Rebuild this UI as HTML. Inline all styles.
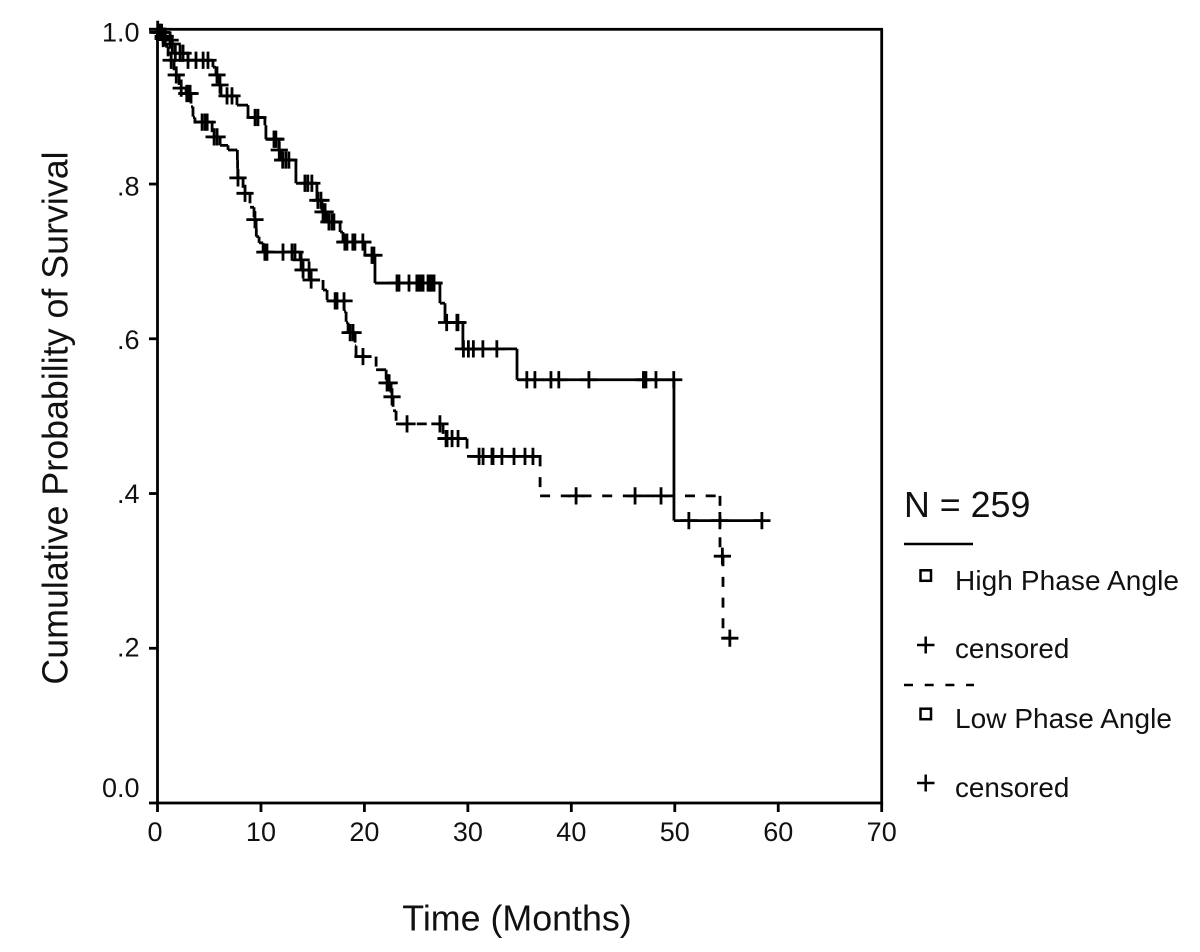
<!DOCTYPE html>
<html lang="en">
<head>
<meta charset="utf-8">
<title>Cumulative Probability of Survival</title>
<style>
html,body{margin:0;padding:0;background:#fff;}
svg{display:block;}
text{font-family:"Liberation Sans",Arial,sans-serif;fill:#111;}
</style>
</head>
<body>
<svg id="chart" width="1200" height="952" viewBox="0 0 1200 952" xmlns="http://www.w3.org/2000/svg">
  <rect x="0" y="0" width="1200" height="952" fill="#fff"/>
  <rect x="157.5" y="29.3" width="724.2" height="773.7" fill="none" stroke="#000" stroke-width="2.8"/>
  <g id="axes"></g>
  <g id="series-low"></g>
  <g id="series-high"></g>
  <text transform="translate(67.3,418) rotate(-90)" text-anchor="middle" font-size="35.8">Cumulative Probability of Survival</text>
  <text x="517" y="930.5" text-anchor="middle" font-size="35.8">Time (Months)</text>
  <g>
    <text x="904" y="517" font-size="35.8">N = 259</text>
    <line x1="904" y1="544" x2="973" y2="544" stroke="#000" stroke-width="2.5"/>
    <rect x="920.5" y="570.3" width="10.5" height="10.5" fill="none" stroke="#000" stroke-width="2.5"/>
    <text x="955" y="590" font-size="28" textLength="224">High Phase Angle</text>
    <path d="M917 645H934.5M925.7 636.5V653.5" fill="none" stroke="#000" stroke-width="2.5"/>
    <text x="955" y="658" font-size="27.8">censored</text>
    <line x1="904" y1="685" x2="974" y2="685" stroke="#000" stroke-width="2.5" stroke-dasharray="9 11.7"/>
    <rect x="920.5" y="708.7" width="10.5" height="10.5" fill="none" stroke="#000" stroke-width="2.5"/>
    <text x="955" y="728" font-size="28" textLength="217">Low Phase Angle</text>
    <path d="M917 783H934.5M925.7 774.5V791.5" fill="none" stroke="#000" stroke-width="2.5"/>
    <text x="955" y="797" font-size="27.8">censored</text>
  </g>
</svg>
<script>
var xTickValues = [0, 10, 20, 30, 40, 50, 60, 70];
var xTickLabels = ["0", "10", "20", "30", "40", "50", "60", "70"];
var yTickValues = [0, 0.2, 0.4, 0.6, 0.8, 1];
var yTickLabels = ["0.0", ".2", ".4", ".6", ".8", "1.0"];

var highEventTimes = [0.06,0.45,1.02,1.42,1.70,2.94,5.36,5.65,5.94,6.14,7.68,8.75,10.38,10.48,11.73,11.93,13.38,15.41,15.9,16.37,17.65,17.93,20.05,21.02,27.3,27.79,29.52,34.75,49.92];
var highSurvival = [0.996,0.991,0.986,0.981,0.969,0.96,0.951,0.941,0.928,0.914,0.902,0.886,0.876,0.858,0.844,0.831,0.801,0.779,0.764,0.751,0.738,0.725,0.708,0.672,0.646,0.621,0.587,0.547,0.365];
var highCensored = [0.02,0.2,0.4,0.55,0.74,1.22,1.42,1.72,2.18,2.47,2.95,3.72,4.41,4.88,5.75,6.04,6.72,7.2,9.43,9.71,11.26,11.35,11.44,11.77,12.1,12.4,12.7,14.25,14.53,14.92,15.5,15.8,16.0,16.2,16.57,16.87,17.05,18.11,18.31,18.88,19.08,19.85,20.73,20.92,23.15,23.34,24.31,25.07,25.27,25.47,25.67,26.15,26.34,26.53,26.73,27.95,28.94,29.04,29.57,30.05,30.53,31.45,32.8,35.7,36.48,38.03,38.79,41.7,46.97,47.21,48.18,49.9,51.36,54.36,58.42];

var lowEventTimes = [0.02,0.35,0.74,1.03,1.6,2.09,2.76,3.24,3.43,3.62,5.28,6.05,6.82,7.72,7.74,7.76,8.27,8.94,9.33,9.53,9.55,9.82,10.21,13.78,13.98,14.75,16,16.39,18.04,18.23,18.42,19.1,19.19,21.13,22.1,22.58,22.77,23.06,27.6,29.92,36.98,54.37,54.66];
var lowSurvival = [0.996,0.988,0.978,0.96,0.941,0.924,0.917,0.9,0.886,0.88,0.861,0.85,0.844,0.831,0.82,0.808,0.788,0.77,0.754,0.743,0.732,0.724,0.712,0.702,0.689,0.676,0.663,0.649,0.635,0.621,0.608,0.591,0.577,0.56,0.543,0.525,0.507,0.49,0.471,0.448,0.397,0.319,0.213];
var lowCensored = [0.03,0.25,0.55,1.32,1.81,2.29,2.83,2.95,3.15,4.31,4.6,4.8,5.47,5.76,7.78,8.46,9.42,10.38,10.58,12.13,13,13.29,13.88,14.07,14.65,14.85,17.17,17.35,18.03,18.62,18.9,19.86,22.19,22.39,22.67,24.12,27.3,27.89,27.99,28.47,29.05,31.08,31.47,32.33,32.43,33.29,34.46,35.52,36.29,40.46,46.16,48.67,54.6,55.32];

var SVGNS = "http://www.w3.org/2000/svg";
var X0 = 157.5, X70 = 881.7, Y0 = 803, Y1 = 29.3, STROKE = 2.8, MARK = 8.6;
function xScale(t) { return X0 + (X70 - X0) * t / 70; }
function yScale(s) { return Y0 - (Y0 - Y1) * s; }

function make(tag, parent) {
  var el = document.createElementNS(SVGNS, tag);
  parent.appendChild(el);
  return el;
}
function segment(parent, x1, y1, x2, y2, dash) {
  if (Math.abs(x1 - x2) < 0.01 && Math.abs(y1 - y2) < 0.01) return;
  var el = make("line", parent);
  
  
  el.setAttribute("x1", x1);
  el.setAttribute("y1", y1);
  el.setAttribute("x2", x2);
  el.setAttribute("y2", y2);
  el.setAttribute("stroke", "#000");
  el.setAttribute("stroke-width", STROKE);
  if (dash) el.setAttribute("stroke-dasharray", dash);
}
function survivalAt(times, values, t) {
  var s = 1;
  for (var i = 0; i < times.length; i++) {
    if (times[i] <= t) s = values[i];
  }
  return s;
}
function drawSeries(parent, times, values, censored, dash) {
  var prevT = 0, prevS = 1;
  for (var i = 0; i < times.length; i++) {
    segment(parent, xScale(prevT), yScale(prevS), xScale(times[i]), yScale(prevS), dash);
    segment(parent, xScale(times[i]), yScale(prevS), xScale(times[i]), yScale(values[i]), dash);
    prevT = times[i];
    prevS = values[i];
  }
  var lastT = censored[censored.length - 1];
  segment(parent, xScale(prevT), yScale(prevS), xScale(lastT), yScale(prevS), dash);
  censored.forEach(function (t) {
    var s = survivalAt(times, values, t);
    var cx = xScale(t), cy = yScale(s);
    var mark = make("path", parent);
    
    
    mark.setAttribute("d", "M" + (cx - MARK) + " " + cy + "H" + (cx + MARK) + "M" + cx + " " + (cy - MARK) + "V" + (cy + MARK));
    mark.setAttribute("fill", "none");
    mark.setAttribute("stroke", "#000");
    mark.setAttribute("stroke-width", STROKE);
  });
}

var axes = document.getElementById("axes");
xTickValues.forEach(function (v, i) {
  var x = xScale(v);
  var tick = make("line", axes);
  
  
  tick.setAttribute("x1", x);
  tick.setAttribute("y1", Y0);
  tick.setAttribute("x2", x);
  tick.setAttribute("y2", Y0 + 9);
  tick.setAttribute("stroke", "#000");
  tick.setAttribute("stroke-width", STROKE);
  var label = make("text", axes);
  
  
  label.setAttribute("x", v === 0 ? x - 2.5 : x);
  label.setAttribute("y", 841);
  label.setAttribute("text-anchor", "middle");
  label.setAttribute("font-size", "27");
  label.textContent = xTickLabels[i];
});
yTickValues.forEach(function (v, i) {
  var y = yScale(v);
  var tick = make("line", axes);
  
  
  tick.setAttribute("x1", X0 - 8.5);
  tick.setAttribute("y1", y);
  tick.setAttribute("x2", X0);
  tick.setAttribute("y2", y);
  tick.setAttribute("stroke", "#000");
  tick.setAttribute("stroke-width", STROKE);
  var label = make("text", axes);
  
  
  label.setAttribute("x", 139.5);
  var offset = (v === 0) ? -6 : 7.4 + 5 * v;
  label.setAttribute("y", y + offset);
  label.setAttribute("text-anchor", "end");
  label.setAttribute("font-size", "27");
  label.textContent = yTickLabels[i];
});

drawSeries(document.getElementById("series-low"), lowEventTimes, lowSurvival, lowCensored, "10 10.7");
drawSeries(document.getElementById("series-high"), highEventTimes, highSurvival, highCensored, null);
</script>
</body>
</html>
